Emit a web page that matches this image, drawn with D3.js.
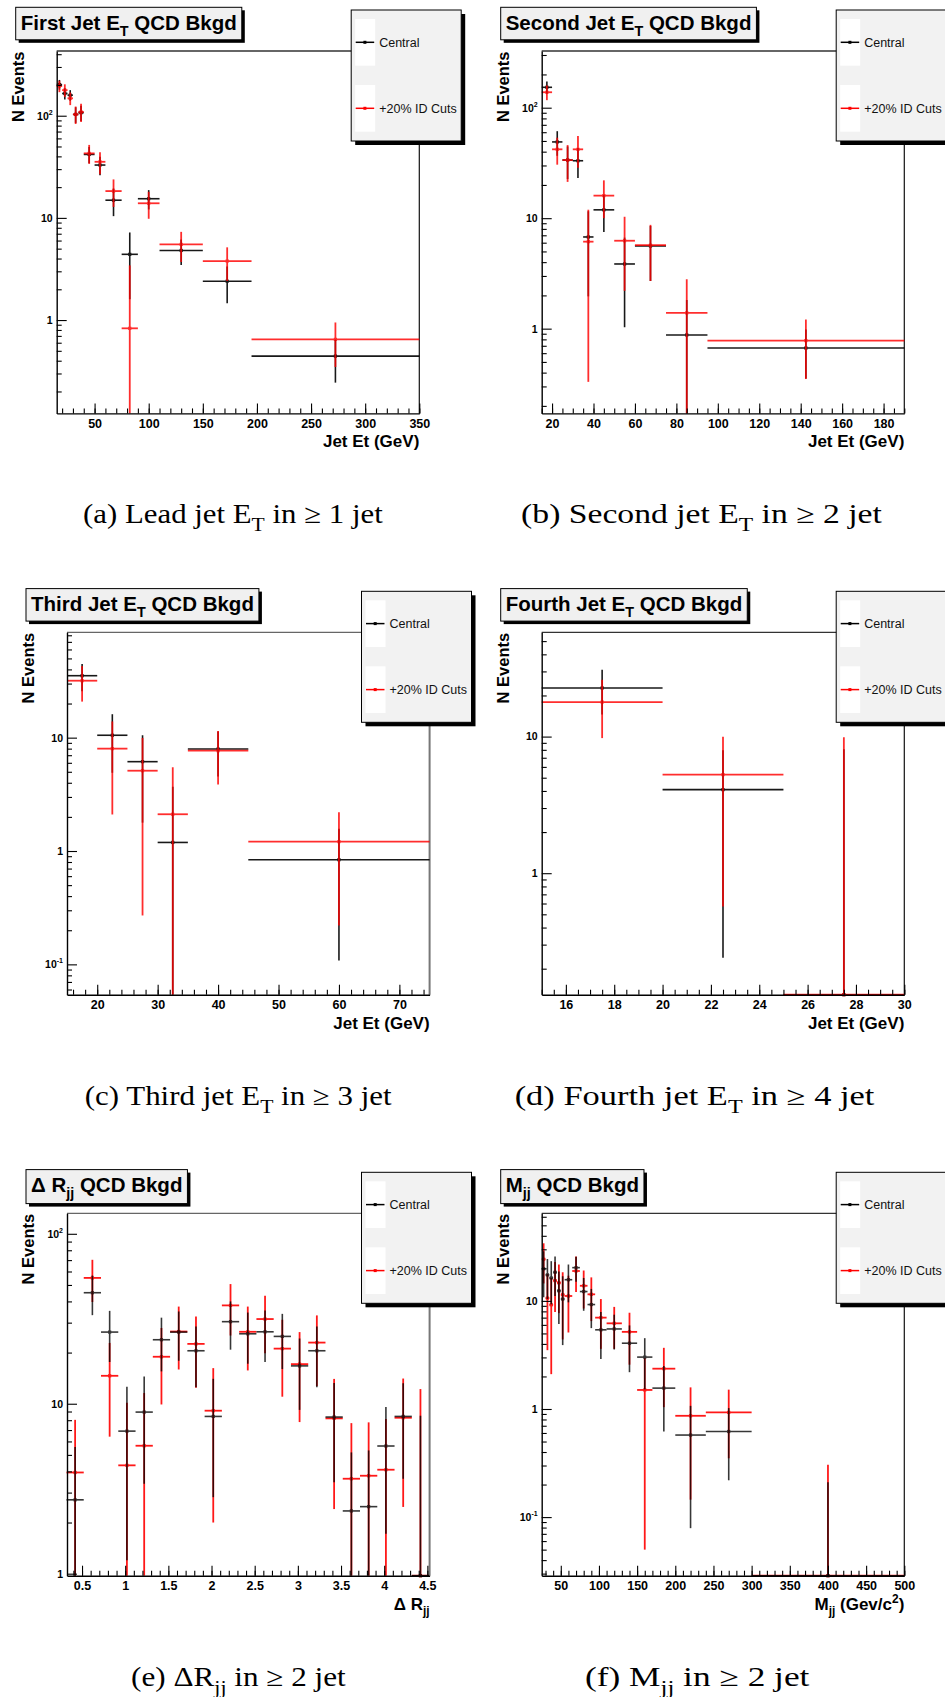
<!DOCTYPE html>
<html><head><meta charset="utf-8">
<script src="https://cdn.jsdelivr.net/npm/d3@7"></script>
<style>body{margin:0;background:#fff} svg{display:block}</style>
</head><body>
<svg id="c" width="945" height="1697"></svg>
<script>
// ---------------- DATA ----------------
// (a) Lead jet ET
const leadEdges = [15,20,25,30,35,40,50,60,75,90,110,150,195,350];
const leadCentral = [202,165,159,103,107,41.8,32.9,14.9,4.4,15.4,4.8,2.4,0.444];
const leadCentralErr = [22,21,19,18,18,7.5,6.7,4.5,2.8,3.3,1.35,0.94,0.2];
const leadCuts = [195,178,148,103,109,42.8,35.4,18.3,0.83,13.9,5.5,3.78,0.647];
const leadCutsErr = [25,25,21,20,22,9,8.6,5.5,2.6,4.1,1.8,1.37,0.3];
const leadXTicks = [50,100,150,200,250,300,350];
const leadYTicks = [1,10,100];

// (b) Second jet ET
const secondEdges = [15,20,25,30,35,40,50,60,75,95,190];
const secondCentral = [153,49,33.6,33.1,6.76,11.9,3.85,5.6,0.877,0.668];
const secondCentralErr = [19.5,12.3,11,10,4.8,4.4,2.82,2.9,0.94,0.315];
const secondCuts = [138,42,33.6,42,6.13,16,6.25,5.7,1.39,0.78];
const secondCutsErr = [21,11.5,12.3,13.4,5.8,6,4.05,3.0,1.41,0.43];
const secondXTicks = [20,40,60,80,100,120,140,160,180];
const secondYTicks = [1,10,100];

// (c) Third jet ET
const thirdEdges = [15,20,25,30,35,45,75];
const thirdCentral = [35.2,10.5,6.14,1.19,7.94,0.838];
const thirdCentralErr = [9.5,5.6,4.36,2.5,3.4,0.73];
const thirdCuts = [31.8,8.0,5.11,2.11,7.67,1.21];
const thirdCutsErr = [11,5.9,4.84,3.37,3.8,0.99];
const thirdXTicks = [20,30,40,50,60,70];
const thirdYTicks = [0.1,1,10];

// (d) Fourth jet ET
const fourthEdges = [15,20,25,30];
const fourthCentral = [22.7,4.09,0];
const fourthCentralErr = [8.2,3.85,8.07];
const fourthCuts = [17.9,5.27,0];
const fourthCutsErr = [8.15,4.7,9.9];
const fourthXTicks = [16,18,20,22,24,26,28,30];
const fourthYTicks = [1,10];

// (e) Delta R_jj
const drEdges = [0.32,0.52,0.72,0.92,1.12,1.32,1.52,1.72,1.92,2.12,2.32,2.52,2.72,2.92,3.12,3.32,3.52,3.72,3.92,4.12,4.32,4.52];
const drCentral = [2.72,45,26.4,6.9,8.93,23.8,26.4,20.5,8.42,30.4,25.8,26.5,24.9,16.7,20.5,8.35,2.34,2.48,5.64,8.42,0];
const drCentralErr = [2.84,11.8,8.8,5.7,5.55,8.3,8.5,8,5.6,9.6,8.6,8.9,8.9,7.5,8,4.9,2.83,2.83,3.92,4.8,8.5];
const drCuts = [3.94,55,14.6,4.34,5.66,18.9,26.6,22.5,9.1,37.9,26.5,31.5,21.1,17.1,22.9,8.2,3.62,3.77,4.09,8.27,0];
const drCutsErr = [4.1,15.3,8.2,5.8,5.9,9,10.7,10.1,7.1,12.7,10.8,11.7,10.1,9.3,10.2,5.8,4.07,4.0,4.04,5.8,12.2];
const drXTicks = [0.5,1,1.5,2,2.5,3,3.5,4,4.5];
const drYTicks = [1,10,100];

// (f) M_jj
const mjjEdges = [25,30,35,40,45,50,55,65,75,85,95,110,130,150,170,200,240,300,500];
const mjjCentral = [19.8,17.4,16.3,18.4,12.4,10.4,15.7,20.3,12.2,9.25,5.4,5.5,4.06,3.02,1.56,0.574,0.619,0];
const mjjCentralErr = [9,7,7,7.3,6.3,6.5,6,5.3,4.1,3.65,2.5,1.95,1.87,1.5,0.94,0.495,0.40,0.21];
const mjjCuts = [24.3,10.6,9.2,15.4,14.7,11.4,11.1,18.9,13.8,11.5,7.0,6.2,5.17,1.5,2.36,0.865,0.93,0];
const mjjCutsErr = [9.8,7.1,7.1,7.5,7,7,6,6.8,5.3,5,3.4,2.6,2.6,1.45,1.32,0.72,0.58,0.305];
const mjjXTicks = [50,100,150,200,250,300,350,400,450,500];
const mjjYTicks = [0.1,1,10];

const seriesNames = ["Central", "+20% ID Cuts"];

// ---------------- LAYOUT ----------------
const svg = d3.select('#c');
const W = 362.6, H = 362.4;
const SANS = "'Liberation Sans', Arial, Helvetica, sans-serif";
const SERIF = "'Liberation Serif', 'Times New Roman', serif";
const BLACK = '#000', RED = '#ff0000';

const panels = [
  {fx:56.7, fy:51, xDomain:[15,350], yDomain:[0.122,430], xTicks:leadXTicks, xMinor:10, yTicks:leadYTicks,
   edges:leadEdges, central:leadCentral, centralErr:leadCentralErr, cuts:leadCuts, cutsErr:leadCutsErr,
   title:[['First Jet E'],['T','sub'],[' QCD Bkgd']], xTitle:[['Jet Et (GeV)']], blackTop:false, grayFrame:false,
   caption:[['(a) Lead jet E'],['T','sub'],[' in ≥ 1 jet']], capX:232.9, capW:300.3, capY:523.3},
  {fx:541.7, fy:51, xDomain:[15,190], yDomain:[0.171,326], xTicks:secondXTicks, xMinor:5, yTicks:secondYTicks,
   edges:secondEdges, central:secondCentral, centralErr:secondCentralErr, cuts:secondCuts, cutsErr:secondCutsErr,
   title:[['Second Jet E'],['T','sub'],[' QCD Bkgd']], xTitle:[['Jet Et (GeV)']], blackTop:false, grayFrame:false,
   caption:[['(b) Second jet E'],['T','sub'],[' in ≥ 2 jet']], capX:701.5, capW:361.5, capY:523.3},
  {fx:67, fy:632.3, xDomain:[15,75], yDomain:[0.054,85], xTicks:thirdXTicks, xMinor:2, yTicks:thirdYTicks,
   edges:thirdEdges, central:thirdCentral, centralErr:thirdCentralErr, cuts:thirdCuts, cutsErr:thirdCutsErr,
   title:[['Third Jet E'],['T','sub'],[' QCD Bkgd']], xTitle:[['Jet Et (GeV)']], blackTop:false, grayFrame:true,
   caption:[['(c) Third jet E'],['T','sub'],[' in ≥ 3 jet']], capX:238.2, capW:307.5, capY:1104.5},
  {fx:541.7, fy:632.3, xDomain:[15,30], yDomain:[0.129,58], xTicks:fourthXTicks, xMinor:0.5, yTicks:fourthYTicks,
   edges:fourthEdges, central:fourthCentral, centralErr:fourthCentralErr, cuts:fourthCuts, cutsErr:fourthCutsErr,
   title:[['Fourth Jet E'],['T','sub'],[' QCD Bkgd']], xTitle:[['Jet Et (GeV)']], blackTop:false, grayFrame:false,
   caption:[['(d) Fourth jet E'],['T','sub'],[' in ≥ 4 jet']], capX:694.5, capW:360.5, capY:1104.5},
  {fx:67, fy:1213.3, xDomain:[0.326,4.526], yDomain:[0.973,132], xTicks:drXTicks, xMinor:0.1, yTicks:drYTicks,
   edges:drEdges, central:drCentral, centralErr:drCentralErr, cuts:drCuts, cutsErr:drCutsErr,
   title:[['Δ R'],['jj','sub'],[' QCD Bkgd']], xTitle:[['Δ R'],['jj','sub']], blackTop:true, grayFrame:true,
   caption:[['(e) ΔR'],['jj','sub'],[' in ≥ 2 jet']], capX:238.4, capW:215.3, capY:1686},
  {fx:541.7, fy:1213.3, xDomain:[25,500], yDomain:[0.0287,64.6], xTicks:mjjXTicks, xMinor:10, yTicks:mjjYTicks,
   edges:mjjEdges, central:mjjCentral, centralErr:mjjCentralErr, cuts:mjjCuts, cutsErr:mjjCutsErr,
   title:[['M'],['jj','sub'],[' QCD Bkgd']], xTitle:[['M'],['jj','sub'],[' (Gev/c'],['2','sup'],[')']], blackTop:true, grayFrame:false,
   caption:[['(f) M'],['jj','sub'],[' in ≥ 2 jet']], capX:697.2, capW:225.1, capY:1686}
];

function rich(text, parts, size) {
  let shift = 0;
  parts.forEach(([t, kind]) => {
    const ts = text.append('tspan').text(t);
    let target = 0, fs = size;
    if (kind === 'sub') { target = size * 0.3; fs = size * 0.7; }
    if (kind === 'sup') { target = -size * 0.42; fs = size * 0.7; }
    ts.attr('dy', target - shift).attr('font-size', fs);
    shift = target;
  });
}

function drawSeries(g, p, x, y, vals, errs, color, opacity, sw) {
  const [ymin, ymax] = p.yDomain;
  const bottom = p.fy + H;
  const yy = v => v <= ymin ? bottom : y(Math.min(v, ymax));
  const s = g.append('g').attr('stroke', color).attr('stroke-width', sw)
    .attr('opacity', opacity).attr('fill', color);
  vals.forEach((v, i) => {
    const x0 = x(p.edges[i]), x1 = x(p.edges[i + 1]), xc = (x0 + x1) / 2;
    const yv = yy(v);
    s.append('line').attr('x1', x0).attr('x2', x1).attr('y1', yv).attr('y2', yv);
    s.append('line').attr('x1', xc).attr('x2', xc)
      .attr('y1', yy(v - errs[i])).attr('y2', yy(v + errs[i]));
    s.append('rect').attr('x', xc - 1.6).attr('y', yv - 1.6).attr('width', 3.2).attr('height', 3.2).attr('stroke', 'none');
  });
}

function supFormat(sel) {
  sel.selectAll('.tick text').each(function(d) {
    const t = d3.select(this);
    t.text(null);
    const e = Math.round(Math.log10(d));
    if (e === 0) t.text('1');
    else if (e === 1) t.text('10');
    else {
      t.append('tspan').text('10');
      t.append('tspan').attr('dy', -5).attr('font-size', 7).text(String(e));
    }
  });
}

panels.forEach(p => {
  const g = svg.append('g');
  const x = d3.scaleLinear().domain(p.xDomain).range([p.fx, p.fx + W]);
  const y = d3.scaleLog().domain(p.yDomain).range([p.fy + H, p.fy]);

  // frame (top & right)
  g.append('line').attr('x1', p.fx).attr('x2', p.fx + W).attr('y1', p.fy).attr('y2', p.fy)
    .attr('stroke', p.grayFrame ? '#666' : '#333').attr('stroke-width', 1.3);
  g.append('line').attr('x1', p.fx + W).attr('x2', p.fx + W).attr('y1', p.fy).attr('y2', p.fy + H)
    .attr('stroke', p.grayFrame ? '#777' : '#111').attr('stroke-width', p.grayFrame ? 2 : 1.2);

  // data
  if (p.blackTop) {
    drawSeries(g, p, x, y, p.cuts, p.cutsErr, RED, 0.9, 1.8);
    drawSeries(g, p, x, y, p.central, p.centralErr, BLACK, 0.78, 1.6);
  } else {
    drawSeries(g, p, x, y, p.central, p.centralErr, BLACK, 0.9, 1.6);
    drawSeries(g, p, x, y, p.cuts, p.cutsErr, RED, 0.82, 1.8);
  }

  // x axis
  const minorX = d3.range(Math.ceil(p.xDomain[0] / p.xMinor - 1e-6) * p.xMinor, p.xDomain[1] + 1e-6, p.xMinor)
    .filter(v => v >= p.xDomain[0] - 1e-9 && v <= p.xDomain[1] + 1e-9);
  const axMinX = g.append('g').attr('transform', `translate(0,${p.fy + H})`)
    .call(d3.axisBottom(x).tickValues(minorX).tickSize(-5).tickSizeOuter(0).tickFormat(''));
  axMinX.select('.domain').remove();
  const axX = g.append('g').attr('transform', `translate(0,${p.fy + H})`)
    .call(d3.axisBottom(x).tickValues(p.xTicks).tickSize(-10).tickSizeOuter(0).tickPadding(5.5)
      .tickFormat(d3.format('~g')));
  axX.attr('font-family', SANS).attr('font-size', 12.5).attr('font-weight', 'bold');
  axX.select('.domain').attr('stroke-width', 1.4);

  // y axis
  const minorY = [];
  for (let e = Math.floor(Math.log10(p.yDomain[0])); e <= Math.ceil(Math.log10(p.yDomain[1])); e++) {
    for (let k = 2; k <= 9; k++) {
      const v = k * Math.pow(10, e);
      if (v >= p.yDomain[0] && v <= p.yDomain[1]) minorY.push(v);
    }
  }
  const axMinY = g.append('g').attr('transform', `translate(${p.fx},0)`)
    .call(d3.axisLeft(y).tickValues(minorY).tickSize(-5).tickSizeOuter(0).tickFormat(''));
  axMinY.select('.domain').remove();
  const axY = g.append('g').attr('transform', `translate(${p.fx},0)`)
    .call(d3.axisLeft(y).tickValues(p.yTicks).tickSize(-10).tickSizeOuter(0).tickPadding(4));
  axY.attr('font-family', SANS).attr('font-size', 10.5).attr('font-weight', 'bold');
  axY.select('.domain').attr('stroke-width', 1.4);
  supFormat(axY);
  g.selectAll('.tick line').attr('stroke-width', 1.1);

  // axis titles
  g.append('text').attr('transform', `translate(${p.fx - 32.7},${p.fy + 0.5}) rotate(-90)`)
    .attr('text-anchor', 'end').attr('font-family', SANS).attr('font-weight', 'bold').attr('font-size', 16.5)
    .text('N Events');
  const xt = g.append('text').attr('x', p.fx + W).attr('y', p.fy + H + 34)
    .attr('text-anchor', 'end').attr('font-family', SANS).attr('font-weight', 'bold').attr('font-size', 17);
  rich(xt, p.xTitle, 17);

  // title box
  const tb = g.append('g');
  const tx = p.fx - 41, ty = p.fy - 43.7;
  const shadow = tb.append('rect').attr('fill', '#000');
  const box = tb.append('rect').attr('fill', '#f0f0f0').attr('stroke', '#000').attr('stroke-width', 1);
  const tt = tb.append('text').attr('x', tx + 5).attr('y', ty + 22.5).attr('font-family', SANS)
    .attr('font-weight', 'bold').attr('font-size', 20.5);
  rich(tt, p.title, 20.5);
  const tw = tt.node().getComputedTextLength();
  const th = p.title.some(d => d[0] === 'jj') ? 34 : 32.5;
  box.attr('x', tx).attr('y', ty).attr('width', tw + 10).attr('height', th);
  shadow.attr('x', tx + 3).attr('y', ty + 3).attr('width', tw + 10).attr('height', th);

  // legend
  const lg = g.append('g');
  const lx = p.fx + 294.5, ly = p.fy - 41, lw = 110, lh = 131;
  lg.append('rect').attr('x', lx + 4).attr('y', ly + 4).attr('width', lw).attr('height', lh).attr('fill', '#000');
  lg.append('rect').attr('x', lx).attr('y', ly).attr('width', lw).attr('height', lh)
    .attr('fill', '#f2f2f2').attr('stroke', '#000').attr('stroke-width', 1);
  [[BLACK, 32.3], [RED, 98.3]].forEach(([col, dy], i) => {
    lg.append('rect').attr('x', lx + 4).attr('y', ly + dy - 23.3).attr('width', 20).attr('height', 46.7).attr('fill', '#fff');
    lg.append('line').attr('x1', lx + 4.5).attr('x2', lx + 23).attr('y1', ly + dy).attr('y2', ly + dy)
      .attr('stroke', col).attr('stroke-width', 1.5);
    lg.append('rect').attr('x', lx + 12.2).attr('y', ly + dy - 1.5).attr('width', 3).attr('height', 3).attr('fill', col);
    lg.append('text').attr('x', lx + 28).attr('y', ly + dy + 4.5).attr('font-family', SANS)
      .attr('font-size', 12.5).attr('fill', '#111').text(seriesNames[i]);
  });

  // caption
  const cg = svg.append('g').attr('transform', `translate(${p.capX},${p.capY})`);
  const ct = cg.append('text').attr('x', 0).attr('y', 0).attr('text-anchor', 'middle')
    .attr('font-family', SERIF).attr('font-size', 27).attr('fill', '#000');
  rich(ct, p.caption, 27);
  const cw = ct.node().getBBox().width;
  ct.attr('transform', `scale(${p.capW / cw},1)`);
});
</script>
</body></html>
